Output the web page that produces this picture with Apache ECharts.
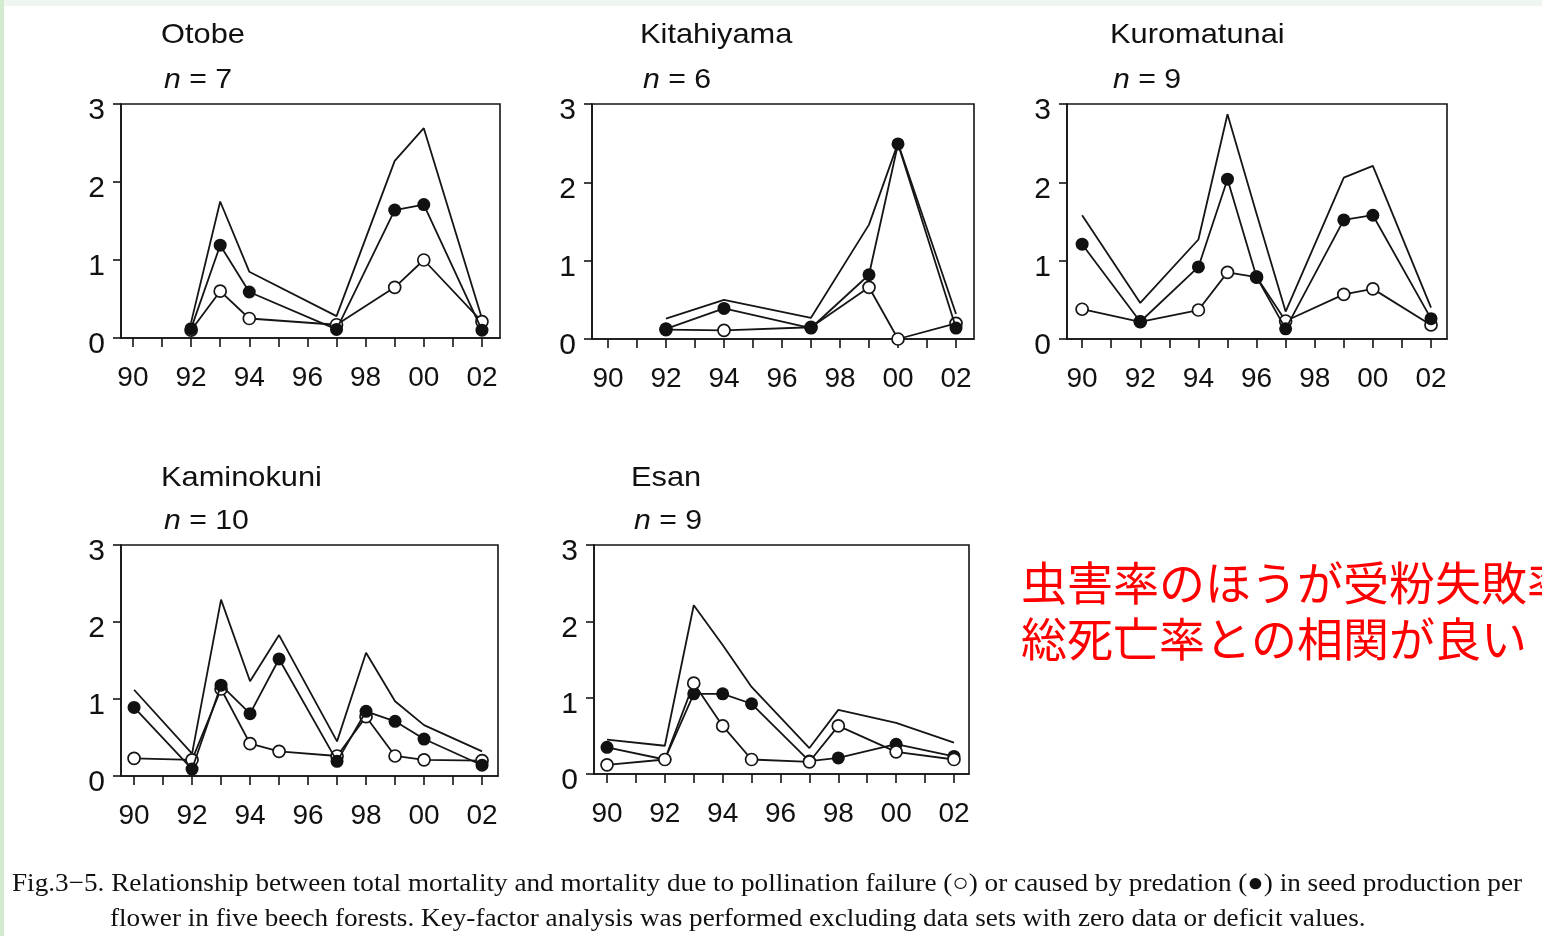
<!DOCTYPE html>
<html>
<head>
<meta charset="utf-8">
<title>Beech seed mortality</title>
<script src="https://cdn.jsdelivr.net/npm/echarts@6/dist/echarts.min.js"></script>
<style>
  html, body { margin: 0; padding: 0; background: #ffffff; }
  #chart { width: 1542px; height: 936px; }
</style>
</head>
<body>
<div id="chart"></div>
<script>
// Mortality per flower: total, due to pollination failure (open), due to predation (filled)
const siteNames = ['Otobe', 'Kitahiyama', 'Kuromatunai', 'Kaminokuni', 'Esan'];
const siteN = [7, 6, 9, 10, 9];

const otobeYears = [1992, 1993, 1994, 1997, 1999, 2000, 2002];
const otobeTotal = [0.20, 1.75, 0.85, 0.28, 2.27, 2.69, 0.25];
const otobePollination = [0.10, 0.60, 0.25, 0.17, 0.65, 1.00, 0.21];
const otobePredation = [0.12, 1.19, 0.59, 0.11, 1.64, 1.71, 0.10];

const kitahiyamaYears = [1992, 1994, 1997, 1999, 2000, 2002];
const kitahiyamaTotal = [0.26, 0.50, 0.27, 1.46, 2.50, 0.32];
const kitahiyamaPollination = [0.12, 0.11, 0.15, 0.66, 0.00, 0.20];
const kitahiyamaPredation = [0.13, 0.39, 0.14, 0.82, 2.49, 0.14];

const kuromatunaiYears = [1990, 1992, 1994, 1995, 1996, 1997, 1999, 2000, 2002];
const kuromatunaiTotal = [1.58, 0.46, 1.27, 2.87, 1.60, 0.35, 2.06, 2.21, 0.40];
const kuromatunaiPollination = [0.38, 0.22, 0.37, 0.85, 0.79, 0.23, 0.57, 0.64, 0.18];
const kuromatunaiPredation = [1.21, 0.22, 0.92, 2.04, 0.79, 0.13, 1.52, 1.58, 0.26];

const kaminokuniYears = [1990, 1992, 1993, 1994, 1995, 1997, 1998, 1999, 2000, 2002];
const kaminokuniTotal = [1.12, 0.29, 2.29, 1.23, 1.83, 0.45, 1.60, 0.97, 0.66, 0.32];
const kaminokuniPollination = [0.23, 0.21, 1.13, 0.42, 0.32, 0.26, 0.77, 0.26, 0.21, 0.20];
const kaminokuniPredation = [0.89, 0.09, 1.18, 0.81, 1.52, 0.19, 0.84, 0.71, 0.48, 0.14];

const esanYears = [1990, 1992, 1993, 1994, 1995, 1997, 1998, 2000, 2002];
const esanTotal = [0.45, 0.37, 2.21, 1.69, 1.14, 0.34, 0.84, 0.67, 0.41];
const esanPollination = [0.12, 0.19, 1.19, 0.63, 0.19, 0.16, 0.63, 0.29, 0.19];
const esanPredation = [0.35, 0.19, 1.05, 1.05, 0.92, 0.17, 0.21, 0.39, 0.23];

const yearTicks = [1990, 1991, 1992, 1993, 1994, 1995, 1996, 1997, 1998, 1999, 2000, 2001, 2002];
const yearLabels = [1990, 1992, 1994, 1996, 1998, 2000, 2002];

const captionLine1 = 'Fig.3\u22125. Relationship between total mortality and mortality due to pollination failure (\u25CB) or caused by predation (\u25CF) in seed production per';
const captionLine2 = 'flower in five beech forests. Key-factor analysis was performed excluding data sets with zero data or deficit values.';
const noteLine1 = '虫害率のほうが受粉失敗率';
const noteLine2 = '総死亡率との相関が良い';

const sites = [
  { years: otobeYears, total: otobeTotal, poll: otobePollination, pred: otobePredation },
  { years: kitahiyamaYears, total: kitahiyamaTotal, poll: kitahiyamaPollination, pred: kitahiyamaPredation },
  { years: kuromatunaiYears, total: kuromatunaiTotal, poll: kuromatunaiPollination, pred: kuromatunaiPredation },
  { years: kaminokuniYears, total: kaminokuniTotal, poll: kaminokuniPollination, pred: kaminokuniPredation },
  { years: esanYears, total: esanTotal, poll: esanPollination, pred: esanPredation }
];

// Panel frames (pixels) and year range shown on each x axis
const panels = [
  { left: 121, top: 104, width: 379, height: 234, xMin: 1989.59, xMax: 2002.62, tx: 161, ty: 35, openOnTop: false },
  { left: 592, top: 104, width: 382, height: 235, xMin: 1989.45, xMax: 2002.62, tx: 640, ty: 35, openOnTop: false },
  { left: 1067, top: 104, width: 380, height: 235, xMin: 1989.48, xMax: 2002.55, tx: 1110, ty: 35, openOnTop: false },
  { left: 121, top: 545, width: 377, height: 231, xMin: 1989.55, xMax: 2002.55, tx: 161, ty: 478, openOnTop: false },
  { left: 594, top: 545, width: 375, height: 229, xMin: 1989.55, xMax: 2002.52, tx: 631, ty: 478, openOnTop: true }
];

const INK = '#151515';
const SANS = '"Liberation Sans", Arial, sans-serif';

const grid = [], xAxis = [], yAxis = [], series = [], graphic = [];

graphic.push({ type: 'rect', shape: { x: 0, y: 0, width: 1542, height: 6 }, style: { fill: '#eff6ef' }, silent: true });
graphic.push({ type: 'rect', shape: { x: 0, y: 0, width: 4, height: 936 }, style: { fill: '#d2eacd' }, silent: true });

panels.forEach((p, i) => {
  grid.push({
    left: p.left, top: p.top, width: p.width, height: p.height,
    show: true, borderColor: INK, borderWidth: 1.6, backgroundColor: 'transparent'
  });
  xAxis.push({
    type: 'value', gridIndex: i, min: p.xMin, max: p.xMax,
    axisLine: { show: true, onZero: false, lineStyle: { color: INK, width: 1.6 } },
    axisTick: { show: true, length: 9, customValues: yearTicks, lineStyle: { color: INK, width: 1.6 } },
    axisLabel: {
      show: true, customValues: yearLabels, margin: 26,
      fontFamily: SANS, fontSize: 28, color: '#111',
      formatter: v => String(Math.round(v) % 100).padStart(2, '0')
    },
    splitLine: { show: false }
  });
  yAxis.push({
    type: 'value', gridIndex: i, min: 0, max: 3, interval: 1,
    axisLine: { show: true, lineStyle: { color: INK, width: 1.6 } },
    axisTick: { show: true, length: 8, lineStyle: { color: INK, width: 1.6 } },
    axisLabel: {
      show: true, margin: 16, color: '#111',
      formatter: v => '{d|' + v + '}',
      rich: { d: { fontFamily: SANS, fontSize: 30, color: '#111', padding: [14, 0, 0, 0] } }
    },
    splitLine: { show: false }
  });

  const s = sites[i];
  const pair = arr => s.years.map((y, k) => [y, arr[k]]);
  const lineStyle = { color: INK, width: 1.8 };

  series.push({
    name: 'total', type: 'line', xAxisIndex: i, yAxisIndex: i, data: pair(s.total),
    showSymbol: false, symbol: 'none', lineStyle, z: 2, silent: true, animation: false
  });
  series.push({
    name: 'pollination failure', type: 'line', xAxisIndex: i, yAxisIndex: i, data: pair(s.poll),
    symbol: 'circle', symbolSize: 12, showAllSymbol: true, lineStyle,
    itemStyle: { color: '#ffffff', borderColor: INK, borderWidth: 1.7 },
    z: p.openOnTop ? 4 : 3, silent: true, animation: false
  });
  series.push({
    name: 'predation', type: 'line', xAxisIndex: i, yAxisIndex: i, data: pair(s.pred),
    symbol: 'circle', symbolSize: 13, showAllSymbol: true, lineStyle,
    itemStyle: { color: '#111111', borderColor: '#111111', borderWidth: 0 },
    z: p.openOnTop ? 3 : 4, silent: true, animation: false
  });

  graphic.push({
    type: 'text', x: p.tx, y: p.ty, scaleX: 1.1,
    style: { text: siteNames[i], font: '28px ' + SANS, fill: '#111', verticalAlign: 'middle' }
  });
  graphic.push({
    type: 'text', x: p.tx + 3, y: p.ty + (i < 3 ? 45 : 43), scaleX: 1.08,
    style: {
      text: '{i|n} = ' + siteN[i],
      font: '28px ' + SANS, fill: '#111', verticalAlign: 'middle',
      rich: { i: { fontStyle: 'italic', fontSize: 28, fontFamily: 'Liberation Sans' } }
    }
  });
});

// Caption, fitted to the printed line width
const measure = document.createElement('canvas').getContext('2d');
const capFont = '26px "Liberation Serif", "Times New Roman", serif';
measure.font = capFont;
const capScale = 1510 / measure.measureText(captionLine1).width;
graphic.push({ type: 'text', x: 12, y: 884, scaleX: capScale,
  style: { text: captionLine1, font: capFont, fill: '#111', verticalAlign: 'middle' } });
graphic.push({ type: 'text', x: 110, y: 919, scaleX: capScale,
  style: { text: captionLine2, font: capFont, fill: '#111', verticalAlign: 'middle' } });

// Red annotation
const noteFont = '46px "Noto Sans CJK JP", sans-serif';
graphic.push({ type: 'text', x: 1021, y: 583, style: { text: noteLine1, font: noteFont, fill: '#ff0000', verticalAlign: 'middle' } });
graphic.push({ type: 'text', x: 1021, y: 639, style: { text: noteLine2, font: noteFont, fill: '#ff0000', verticalAlign: 'middle' } });

const chart = echarts.init(document.getElementById('chart'), null, { renderer: 'canvas' });
chart.setOption({
  backgroundColor: '#ffffff',
  animation: false,
  grid, xAxis, yAxis, series, graphic
});
</script>
</body>
</html>
